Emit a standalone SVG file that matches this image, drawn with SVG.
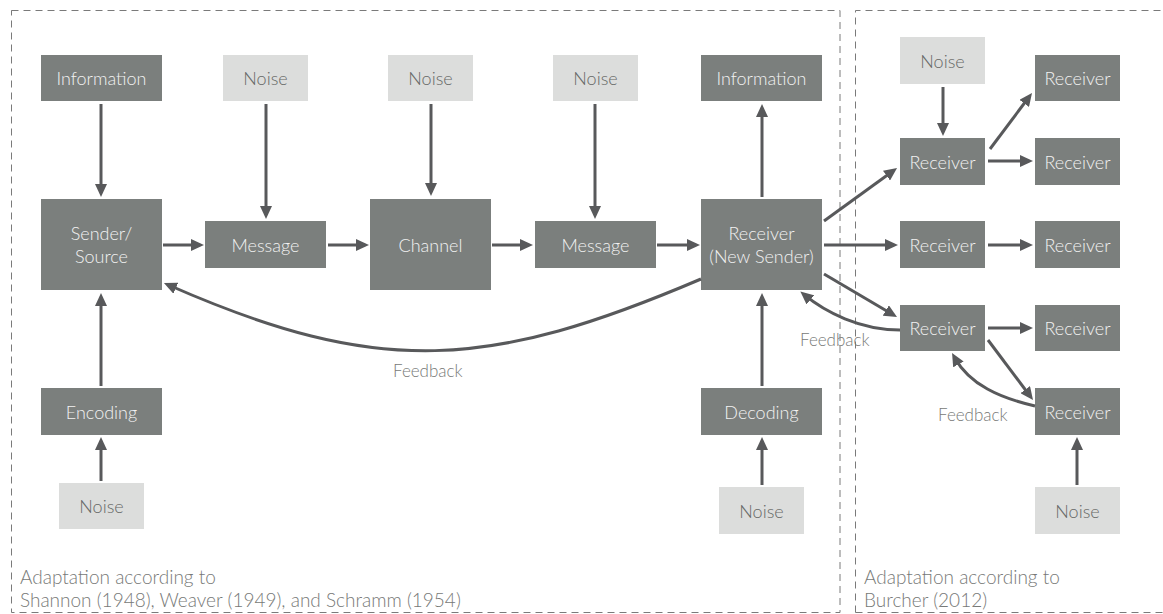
<svg xmlns="http://www.w3.org/2000/svg" width="1163" height="614" viewBox="0 0 1163 614">
  <style>
    .dark { fill: #7b7f7d; }
    .light { fill: #dcdddc; }
    .t { font-family: Lato, "Liberation Sans", sans-serif; font-weight: 300; font-size: 18px; text-anchor: middle; }
    .td { fill: #f2f2f2; }
    .tl { fill: #666866; }
    .lbl { font-family: Lato, "Liberation Sans", sans-serif; font-weight: 300; font-size: 17px; fill: #777977; }
    .foot { font-size: 19px; }
    .frame { fill: none; stroke: #7a7a7a; stroke-width: 1; stroke-dasharray: 7 5; }
    .c { fill: none; stroke: #58595b; stroke-width: 3; marker-end: url(#ah); }
  </style>
  <defs>
    <marker id="ah" viewBox="0 0 13 12" refX="8" refY="6" markerWidth="13" markerHeight="12" orient="auto" markerUnits="userSpaceOnUse">
      <path d="M0,0 L13,6 L0,12 z" fill="#58595b"/>
    </marker>
  </defs>

  <!-- frames -->
  <g id="frames">
    <rect class="frame" x="11.5" y="10.5" width="828.5" height="602"/>
    <path class="frame" d="M855.5,612.5 V10.5 H1165 M855.5,612.5 H1165"/>
  </g>

  <!-- Shannon / Weaver / Schramm model -->
  <g id="info-left"><rect class="dark" x="41" y="55" width="121" height="46"/><text class="t td" x="101.5" y="85">Information</text></g>
  <g id="noise-1"><rect class="light" x="223" y="55" width="85" height="46"/><text class="t tl" x="265.5" y="85">Noise</text></g>
  <g id="noise-2"><rect class="light" x="388" y="55" width="85" height="46"/><text class="t tl" x="430.5" y="85">Noise</text></g>
  <g id="noise-3"><rect class="light" x="553" y="55" width="85" height="46"/><text class="t tl" x="595.5" y="85">Noise</text></g>
  <g id="info-right"><rect class="dark" x="701" y="55" width="121" height="46"/><text class="t td" x="761.5" y="85">Information</text></g>

  <g id="sender"><rect class="dark" x="41" y="199" width="121" height="91"/><text class="t td" x="101.5" y="240">Sender/</text><text class="t td" x="101.5" y="263">Source</text></g>
  <g id="message-1"><rect class="dark" x="205" y="221" width="121" height="47"/><text class="t td" x="265.5" y="252">Message</text></g>
  <g id="channel"><rect class="dark" x="370" y="199" width="121" height="91"/><text class="t td" x="430.5" y="252">Channel</text></g>
  <g id="message-2"><rect class="dark" x="535" y="221" width="121" height="47"/><text class="t td" x="595.5" y="252">Message</text></g>
  <g id="receiver-new-sender"><rect class="dark" x="701" y="199" width="121" height="91"/><text class="t td" x="761.5" y="240">Receiver</text><text class="t td" x="761.5" y="263">(New Sender)</text></g>

  <g id="encoding"><rect class="dark" x="41" y="388" width="121" height="47"/><text class="t td" x="101.5" y="418.5">Encoding</text></g>
  <g id="noise-bl"><rect class="light" x="59" y="483" width="85" height="46"/><text class="t tl" x="101.5" y="513">Noise</text></g>
  <g id="decoding"><rect class="dark" x="701" y="388" width="121" height="47"/><text class="t td" x="761.5" y="418.5">Decoding</text></g>
  <g id="noise-bd"><rect class="light" x="719" y="487" width="85" height="47"/><text class="t tl" x="761.5" y="517.5">Noise</text></g>

  <!-- Burcher model -->
  <g id="noise-tr"><rect class="light" x="900" y="37" width="85" height="47"/><text class="t tl" x="942.5" y="67.5">Noise</text></g>
  <g id="r1"><rect class="dark" x="900" y="138" width="85" height="47"/><text class="t td" x="942.5" y="168.5">Receiver</text></g>
  <g id="r1a"><rect class="dark" x="1035" y="55" width="85" height="46"/><text class="t td" x="1077.5" y="85">Receiver</text></g>
  <g id="r1b"><rect class="dark" x="1035" y="138" width="85" height="47"/><text class="t td" x="1077.5" y="168.5">Receiver</text></g>
  <g id="r2"><rect class="dark" x="900" y="221" width="85" height="47"/><text class="t td" x="942.5" y="252">Receiver</text></g>
  <g id="r2a"><rect class="dark" x="1035" y="221" width="85" height="47"/><text class="t td" x="1077.5" y="252">Receiver</text></g>
  <g id="r3"><rect class="dark" x="900" y="305" width="85" height="46"/><text class="t td" x="942.5" y="335">Receiver</text></g>
  <g id="r3a"><rect class="dark" x="1035" y="305" width="85" height="46"/><text class="t td" x="1077.5" y="335">Receiver</text></g>
  <g id="r3b"><rect class="dark" x="1035" y="388" width="85" height="47"/><text class="t td" x="1077.5" y="418.5">Receiver</text></g>
  <g id="noise-br"><rect class="light" x="1035" y="487" width="85" height="47"/><text class="t tl" x="1077.5" y="517.5">Noise</text></g>

  <!-- connectors -->
  <g id="connectors">
    <path class="c" d="M101,104 V192"/>
    <path class="c" d="M266,104 V214"/>
    <path class="c" d="M431,104 V191"/>
    <path class="c" d="M595,104 V214"/>
    <path class="c" d="M163,245 H199"/>
    <path class="c" d="M328,245 H364"/>
    <path class="c" d="M492,245 H528"/>
    <path class="c" d="M657,245 H695"/>
    <path class="c" d="M762,197 V109"/>
    <path class="c" d="M762,386 V298"/>
    <path class="c" d="M762,485 V442"/>
    <path class="c" d="M101,386 V298"/>
    <path class="c" d="M101,481 V442"/>
    <path class="c" d="M701,279 C490,369 380,378 168.5,285"/>
    <path class="c" d="M824,221 L893,171"/>
    <path class="c" d="M824,245 H893"/>
    <path class="c" d="M824,274 L892.7,314.5"/>
    <path class="c" d="M900,330 C860,330 825,312 804.2,294.7"/>
    <path class="c" d="M943,87 V131"/>
    <path class="c" d="M990,149 L1029,97"/>
    <path class="c" d="M988,161 H1028"/>
    <path class="c" d="M988,245 H1028"/>
    <path class="c" d="M988,328 H1028"/>
    <path class="c" d="M988,340 L1030,396"/>
    <path class="c" d="M1035,406 C1000,398 970,385 954.5,357.4"/>
    <path class="c" d="M1077,485 V442"/>
  </g>

  <!-- labels -->
  <g id="labels">
    <text class="lbl" x="393" y="377">Feedback</text>
    <text class="lbl" x="800" y="346">Feedback</text>
    <text class="lbl" x="938" y="421">Feedback</text>
    <text class="lbl foot" x="20" y="584">Adaptation according to</text>
    <text class="lbl foot" x="20" y="606.5">Shannon (1948), Weaver (1949), and Schramm (1954)</text>
    <text class="lbl foot" x="864" y="584">Adaptation according to</text>
    <text class="lbl foot" x="864" y="606.5">Burcher (2012)</text>
  </g>
</svg>
